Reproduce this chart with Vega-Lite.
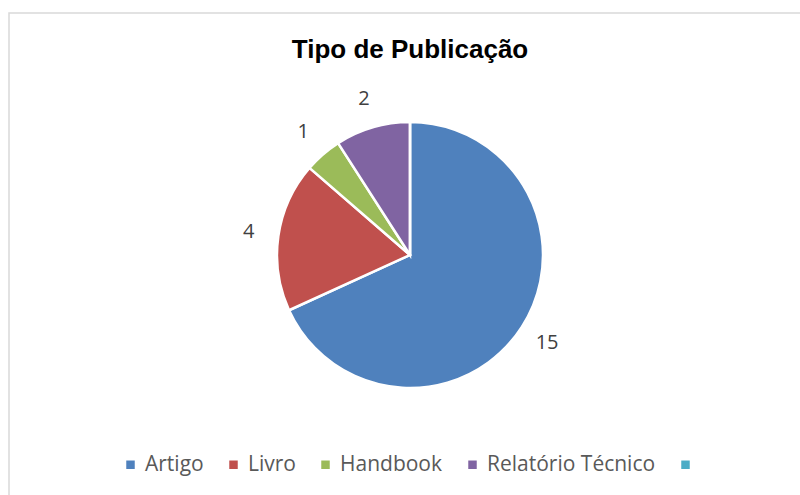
{
  "$schema": "https://vega.github.io/schema/vega-lite/v6.json",
  "width": 800,
  "height": 495,
  "autosize": {"type": "fit", "contains": "padding"},
  "padding": {"left": 9, "right": -11, "top": 13, "bottom": -2},
  "background": "white",
  "view": {"stroke": "#d9d9d9", "strokeWidth": 1.5, "fill": "white"},
  "title": {
    "text": "Tipo de Publicação",
    "orient": "top",
    "offset": -50,
    "font": "Liberation Sans",
    "fontSize": 26,
    "fontWeight": "bold",
    "color": "#000000"
  },
  "data": {
    "values": [
      {"tipo": "Artigo", "quantidade": 15, "ordem": 1},
      {"tipo": "Livro", "quantidade": 4, "ordem": 2},
      {"tipo": "Handbook", "quantidade": 1, "ordem": 3},
      {"tipo": "Relatório Técnico", "quantidade": 2, "ordem": 4},
      {"tipo": "(vazio)", "quantidade": 0, "ordem": 5}
    ]
  },
  "encoding": {
    "theta": {"field": "quantidade", "type": "quantitative", "stack": true},
    "order": {"field": "ordem", "type": "quantitative"},
    "color": {
      "field": "tipo",
      "type": "nominal",
      "scale": {
        "domain": ["Artigo", "Livro", "Handbook", "Relatório Técnico", "(vazio)"],
        "range": ["#4f81bd", "#c0504d", "#9bbb59", "#8064a2", "#4bacc6"]
      },
      "legend": {
        "title": null,
        "orient": "bottom",
        "direction": "horizontal",
        "offset": -43,
        "symbolType": "square",
        "symbolSize": 72,
        "symbolStrokeWidth": 0,
        "labelFont": "Open Sans",
        "labelFontSize": 21,
        "labelColor": "#595959",
        "labelLimit": 400,
        "columnPadding": 19,
        "labelOffset": 4,
        "labelExpr": "datum.value == '(vazio)' ? '' : datum.value"
      }
    }
  },
  "layer": [
    {
      "mark": {"type": "arc", "outerRadius": 133, "stroke": "white", "strokeWidth": 2.5}
    },
    {
      "transform": [{"filter": "datum.quantidade > 0"}],
      "mark": {"type": "text", "radius": 163, "font": "Open Sans", "fontSize": 20},
      "encoding": {
        "text": {"field": "quantidade", "type": "quantitative"},
        "color": {"value": "#404040"}
      }
    }
  ],
  "config": {
    "view": {"stroke": "#d9d9d9", "strokeWidth": 1.5},
    "legend": {"layout": {"bottom": {"anchor": "middle"}}}
  }
}
